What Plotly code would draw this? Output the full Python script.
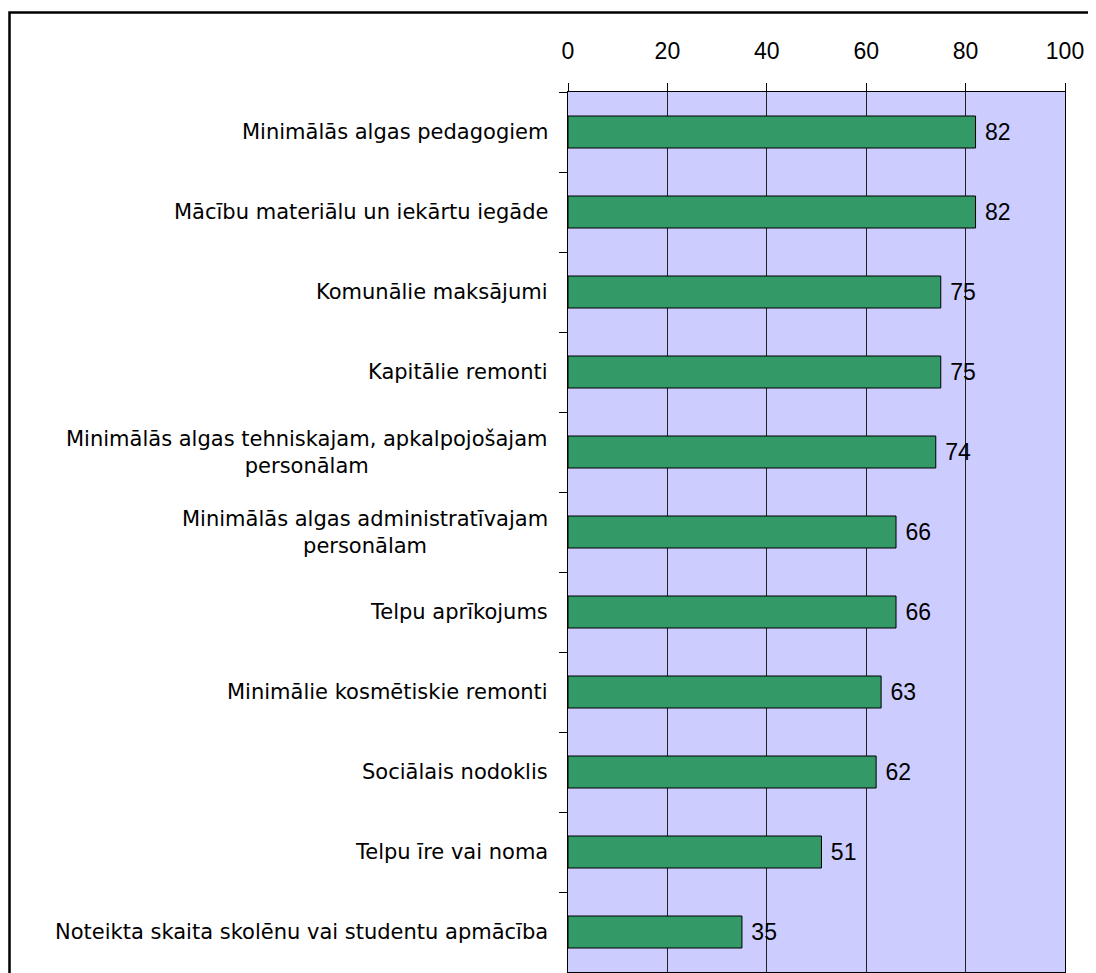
import plotly.graph_objects as go

categories = [
    "Minimālās algas pedagogiem",
    "Mācību materiālu un iekārtu iegāde",
    "Komunālie maksājumi",
    "Kapitālie remonti",
    "Minimālās algas tehniskajam, apkalpojošajam<br>personālam",
    "Minimālās algas administratīvajam<br>personālam",
    "Telpu aprīkojums",
    "Minimālie kosmētiskie remonti",
    "Sociālais nodoklis",
    "Telpu īre vai noma",
    "Noteikta skaita skolēnu vai studentu apmācība",
]
values = [82, 82, 75, 75, 74, 66, 66, 63, 62, 51, 35]
x_ticks = [0, 20, 40, 60, 80, 100]

# page has an 8px body margin; figure is sized to fit the window
W, H = 1088, 965
ML, MT = 560, 84
PW, PH = 497, 880
MR = W - ML - PW
MB = H - MT - PH

fig = go.Figure()
fig.add_trace(go.Bar(
    x=values,
    y=categories,
    orientation="h",
    width=0.4,
    marker=dict(color="#339966", line=dict(color="#000000", width=1)),
    text=[str(v) for v in values],
    texttemplate=" %{text}",
    textposition="outside",
    cliponaxis=False,
    textfont=dict(family="Liberation Sans", size=23, color="#000000"),
    hoverinfo="skip",
))

for c in categories:
    fig.add_annotation(
        x=0, xref="paper", y=c, yref="y",
        text=c, showarrow=False,
        xanchor="right", yanchor="middle", align="center",
        xshift=-18,
        font=dict(family="DejaVu Sans", size=21, color="#000000"),
    )

def px2paper_x(px):
    return (px - ML) / PW

def px2paper_y(py):
    return (MT + PH - py) / PH

# outer frame (cut off at right/bottom as in the reference)
fig.add_shape(
    type="rect", xref="paper", yref="paper",
    x0=px2paper_x(1.5), x1=px2paper_x(1120),
    y0=px2paper_y(1000), y1=px2paper_y(4.5),
    line=dict(color="#000000", width=2.5), fillcolor="rgba(0,0,0,0)",
    layer="above",
)

fig.update_layout(
    width=W, height=H,
    margin=dict(l=ML, r=MR, t=MT, b=MB, pad=0),
    paper_bgcolor="#FFFFFF",
    plot_bgcolor="#CCCCFF",
    showlegend=False,
    bargap=0.6,
    xaxis=dict(
        side="top",
        range=[0, 100],
        tickvals=x_ticks,
        ticktext=[str(t) for t in x_ticks],
        ticks="outside", ticklen=8, tickcolor="#000000", tickwidth=1,
        showline=True, linecolor="#000000", linewidth=1, mirror=True,
        showgrid=True, gridcolor="#222222", gridwidth=1,
        zeroline=False,
        ticklabelstandoff=15,
        tickfont=dict(family="Liberation Sans", size=23, color="#000000"),
        fixedrange=True,
    ),
    yaxis=dict(
        type="category",
        autorange="reversed",
        showticklabels=False,
        ticks="outside", ticklen=8, tickcolor="#000000", tickwidth=1,
        tickson="boundaries",
        showline=True, linecolor="#000000", linewidth=1, mirror=True,
        showgrid=False, zeroline=False,
        fixedrange=True,
    ),
)

fig.write_html("out.html", config={"displayModeBar": False})
